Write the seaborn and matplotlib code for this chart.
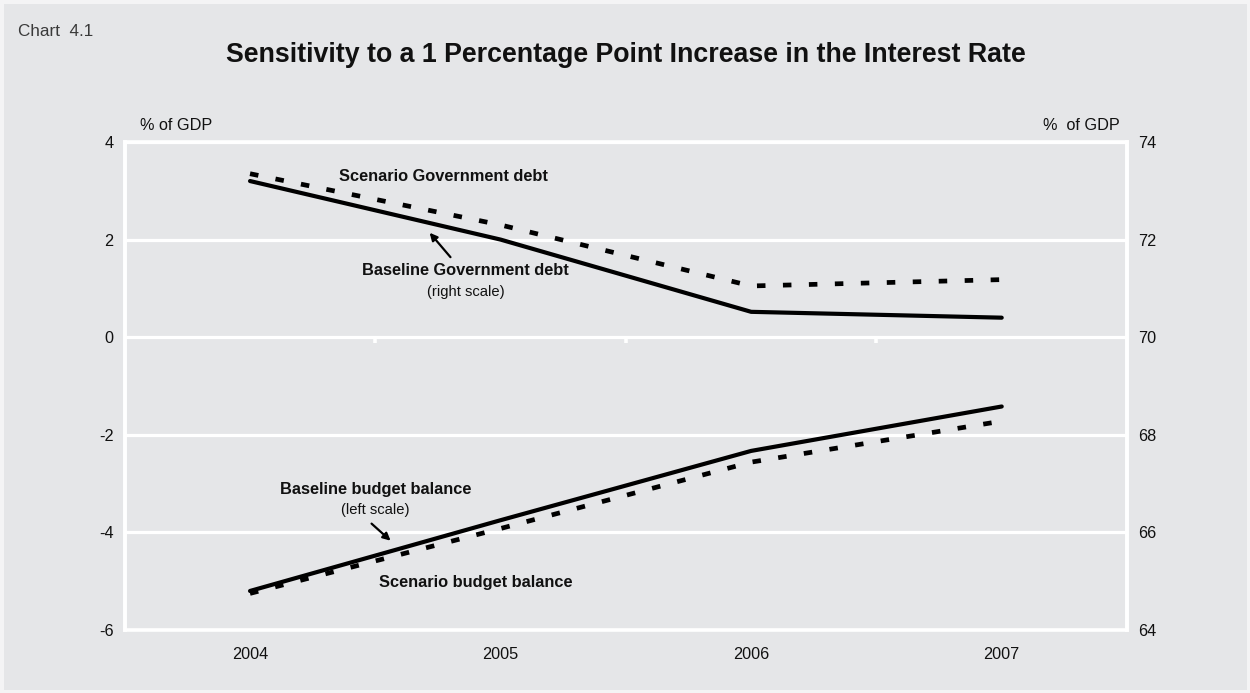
import numpy as np
import pandas as pd
import matplotlib
matplotlib.use("Agg")
import matplotlib.pyplot as plt
import seaborn as sns

# values
years = [2004, 2005, 2006, 2007]
baseline_balance = [-5.20, -3.75, -2.33, -1.42]
scenario_balance = [-5.25, -3.92, -2.56, -1.72]
baseline_debt = [73.20, 72.00, 70.52, 70.40]
scenario_debt = [73.35, 72.30, 71.05, 71.18]
left_ticks = [-6, -4, -2, 0, 2, 4]
right_ticks = [64, 66, 68, 70, 72, 74]
boundary_ticks = [2004.5, 2005.5, 2006.5]

BG = "#e5e6e8"
INK = "#111111"


def long_form(base, scen):
    return pd.DataFrame(
        {
            "year": years * 2,
            "value": base + scen,
            "series": ["Baseline"] * len(years) + ["Scenario"] * len(years),
        }
    )


sns.set_theme(style="white")
plt.rcParams["font.family"] = ["Liberation Sans", "DejaVu Sans"]

balance = long_form(baseline_balance, scenario_balance)
debt = long_form(baseline_debt, scenario_debt)

fig = plt.figure(figsize=(12.5, 6.93), dpi=100, facecolor=BG)
fig.patch.set_edgecolor("#f4f4f5")
fig.patch.set_linewidth(5)
ax = fig.add_axes([0.0998, 0.0909, 0.8018, 0.7042])
ax.set_facecolor(BG)
ax2 = ax.twinx()

dash_map = {"Baseline": "", "Scenario": (1.8, 3.7)}
sns.lineplot(data=balance, x="year", y="value", style="series", dashes=dash_map,
             color="black", legend=False, ax=ax, zorder=3)
sns.lineplot(data=debt, x="year", y="value", style="series", dashes=dash_map,
             color="black", legend=False, ax=ax2, zorder=3)

for line in ax.lines + ax2.lines:
    if line.get_linestyle() == "-":
        line.set_linewidth(3.0)
        line.set_solid_capstyle("round")
        line.set_solid_joinstyle("round")
    else:
        line.set_linewidth(3.4)
        line.set_dash_capstyle("butt")

ax.set_xlim(2003.5, 2007.5)
ax.set_xticks(years)
ax.set_xticklabels([str(y) for y in years])
ax.set_ylim(-6, 4)
ax.set_yticks(left_ticks)
ax.set_yticklabels([str(t) for t in left_ticks])
ax2.set_ylim(64, 74)
ax2.set_yticks(right_ticks)
ax2.set_yticklabels([str(t) for t in right_ticks])
ax.set_xlabel("")
ax.set_ylabel("")
ax2.set_ylabel("")

ax.yaxis.grid(True, color="white", linewidth=2.3)
ax.set_axisbelow(True)
for a in (ax, ax2):
    for side, sp in a.spines.items():
        sp.set_color("white")
        sp.set_linewidth(2.6)
ax2.spines["top"].set_visible(False)
ax2.spines["bottom"].set_visible(False)

ax.tick_params(axis="y", length=0, pad=8, labelsize=11.7, labelcolor=INK)
ax.tick_params(axis="x", length=0, pad=12, labelsize=11.7, labelcolor=INK)
ax2.tick_params(axis="y", length=0, pad=8, labelsize=11.7, labelcolor=INK)

# small white ticks on the zero line between the years
sec = ax.secondary_xaxis(0.6)
sec.set_xticks(boundary_ticks)
sec.set_xticklabels([])
sec.tick_params(direction="in", length=4, width=2.6, color="white")
sec.spines["bottom"].set_visible(False)

# annotations
bold = dict(fontsize=11.8, fontweight="bold", color=INK, ha="center", va="center")
small = dict(fontsize=10.6, color=INK, ha="center", va="center")
ax.text(2004.77, 3.29, "Scenario Government debt", **bold)
ax.text(2004.86, 1.36, "Baseline Government debt", **bold)
ax.text(2004.86, 0.93, "(right scale)", **small)
ax.text(2004.50, -3.12, "Baseline budget balance", **bold)
ax.text(2004.50, -3.55, "(left scale)", **small)
ax.text(2004.90, -5.03, "Scenario budget balance", **bold)

arrow = dict(arrowstyle="-|>", color="black", lw=1.6, mutation_scale=11,
             shrinkA=0, shrinkB=0)
ax.annotate("", xy=(2004.717, 2.14), xytext=(2004.80, 1.64), arrowprops=arrow)
ax.annotate("", xy=(2004.561, -4.17), xytext=(2004.485, -3.82), arrowprops=arrow)

fig.text(18 / 1250, 1 - 31 / 693, "Chart  4.1", fontsize=12.3, color="#3a3a3a",
         ha="left", va="center")
fig.text(626 / 1250, 1 - 55 / 693,
         "Sensitivity to a 1 Percentage Point Increase in the Interest Rate",
         fontsize=19.3, fontweight="bold", color=INK, ha="center", va="center")
fig.text(140 / 1250, 1 - 126 / 693, "% of GDP", fontsize=11.7, color=INK,
         ha="left", va="center")
fig.text(1120 / 1250, 1 - 126 / 693, "%  of GDP", fontsize=11.7, color=INK,
         ha="right", va="center")

fig.savefig("out.png", dpi=100, facecolor=BG, edgecolor=fig.patch.get_edgecolor())
